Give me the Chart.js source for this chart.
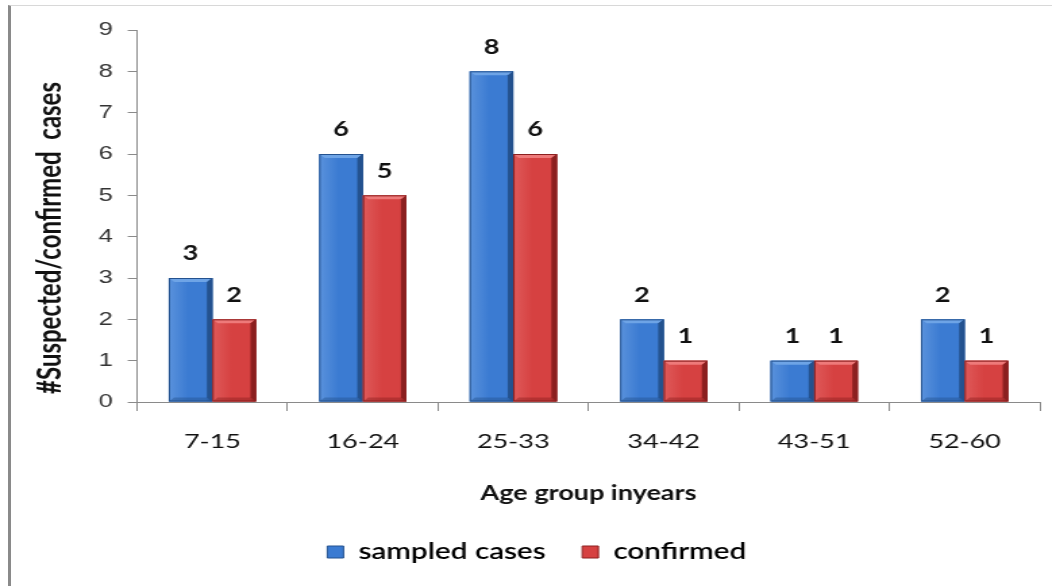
<!DOCTYPE html>
<html>
<head>
<meta charset="utf-8">
<script src="https://cdn.jsdelivr.net/npm/chart.js@4/dist/chart.umd.min.js"></script>
<style>
  html, body { margin: 0; padding: 0; background: #fff; overflow: hidden; }
  #frame {
    position: absolute; left: 8px; top: 5px; width: 1044px; height: 581px;
    border-left: 3px solid #8a8a8a; border-top: 1px solid #d8d8d8; box-sizing: border-box;
  }
  /* the chart is laid out on a narrower canvas and widened to the page */
  #c { position: absolute; left: 0; top: 0; transform-origin: 0 0; transform: scaleX(1.3504); }
</style>
</head>
<body>
<div id="frame"></div>
<canvas id="c" width="779" height="586"></canvas>
<script>
// Age groups and case counts
const ageGroups = ['7-15', '16-24', '25-33', '34-42', '43-51', '52-60'];
const sampledCases = [3, 6, 8, 2, 1, 2];
const confirmedCases = [2, 5, 6, 1, 1, 1];
const yTicks = [0, 1, 2, 3, 4, 5, 6, 7, 8, 9];
const yTitle = '#Suspected/confirmed  cases';

const palette = {
  blue: { base: '#3b7bd2', light: '#6ea4e6', side: '#5a92dc', dark: '#24528f' },
  red:  { base: '#d64141', light: '#ee7a7a', side: '#df5a5a', dark: '#8c2020' }
};

// Bevelled look for each bar, drawn from the bar elements' own geometry
const bevelPlugin = {
  id: 'bevel',
  afterDatasetsDraw(chart) {
    const ctx = chart.ctx;
    chart.data.datasets.forEach((ds, di) => {
      const meta = chart.getDatasetMeta(di);
      const p = di === 0 ? palette.blue : palette.red;
      meta.data.forEach(bar => {
        const { x, y, base, width } = bar.getProps(['x', 'y', 'base', 'width'], true);
        const l = x - width / 2, r = x + width / 2, t = y, b = base;
        const e = Math.min(4, (b - t) / 3);
        ctx.save();
        const g = ctx.createLinearGradient(l, 0, r, 0);
        g.addColorStop(0, p.side);
        g.addColorStop(0.45, p.base);
        g.addColorStop(0.85, p.base);
        g.addColorStop(1, p.dark);
        ctx.fillStyle = g;
        ctx.fillRect(l, t, r - l, b - t);
        // top bevel
        ctx.fillStyle = p.light;
        ctx.beginPath();
        ctx.moveTo(l, t); ctx.lineTo(r, t); ctx.lineTo(r - e, t + e); ctx.lineTo(l + e, t + e);
        ctx.closePath(); ctx.fill();
        // right bevel
        ctx.fillStyle = p.dark;
        ctx.beginPath();
        ctx.moveTo(r, t); ctx.lineTo(r, b); ctx.lineTo(r - e, b - e); ctx.lineTo(r - e, t + e);
        ctx.closePath(); ctx.fill();
        // bottom bevel
        ctx.globalAlpha = 0.45;
        ctx.beginPath();
        ctx.moveTo(l, b); ctx.lineTo(r, b); ctx.lineTo(r - e, b - e); ctx.lineTo(l + e, b - e);
        ctx.closePath(); ctx.fill();
        ctx.globalAlpha = 1;
        ctx.strokeStyle = p.dark;
        ctx.lineWidth = 1;
        ctx.strokeRect(l + 0.5, t + 0.5, r - l - 1, b - t - 1);
        ctx.restore();
      });
    });
  }
};

// Value labels above each bar
const valueLabels = {
  id: 'valueLabels',
  afterDatasetsDraw(chart) {
    const ctx = chart.ctx;
    ctx.save();
    ctx.font = 'bold 20px Lato, sans-serif';
    ctx.fillStyle = '#111';
    ctx.textAlign = 'center';
    ctx.textBaseline = 'middle';
    chart.data.datasets.forEach((ds, di) => {
      chart.getDatasetMeta(di).data.forEach((bar, i) => {
        ctx.fillText(String(ds.data[i]), bar.x, bar.y - 24);
      });
    });
    ctx.restore();
  }
};

// Vertical axis title, set a little below the middle of the plot
const yTitleRoom = 37;
const yTitlePlugin = {
  id: 'yTitle',
  afterDraw(chart) {
    const { ctx, chartArea, scales } = chart;
    ctx.save();
    ctx.translate(scales.y.left + 12, (chartArea.top + chartArea.bottom) / 2 + 22);
    ctx.rotate(-Math.PI / 2);
    ctx.font = 'bold 24px Lato, sans-serif';
    ctx.fillStyle = '#111';
    ctx.textAlign = 'center';
    ctx.textBaseline = 'middle';
    ctx.fillText(yTitle, 0, 0);
    ctx.restore();
  }
};

new Chart(document.getElementById('c'), {
  type: 'bar',
  data: {
    labels: ageGroups,
    datasets: [
      { label: 'sampled cases', data: sampledCases, backgroundColor: palette.blue.base, borderWidth: 0 },
      { label: 'confirmed', data: confirmedCases, backgroundColor: palette.red.base, borderWidth: 0 }
    ]
  },
  options: {
    responsive: false,
    animation: false,
    categoryPercentage: 0.58,
    barPercentage: 1.0,
    layout: { padding: { left: 25, right: 9, top: 30, bottom: 13 } },
    plugins: {
      tooltip: { enabled: false },
      legend: {
        position: 'bottom',
        labels: {
          font: { family: 'Lato, sans-serif', size: 22, weight: '600' },
          color: '#111',
          boxWidth: 12, boxHeight: 12,
          padding: 27,
          generateLabels(chart) {
            return chart.data.datasets.map((ds, i) => ({
              text: ds.label,
              fillStyle: i === 0 ? palette.blue.base : palette.red.base,
              strokeStyle: i === 0 ? palette.blue.dark : palette.red.dark,
              lineWidth: 1,
              datasetIndex: i
            }));
          }
        }
      }
    },
    scales: {
      x: {
        offset: true,
        grid: { display: true, drawOnChartArea: false, offset: true, tickLength: 9, color: '#8a8a8a' },
        border: { color: '#8a8a8a' },
        ticks: { font: { family: 'Lato, sans-serif', size: 20 }, color: '#111', padding: 19 },
        title: { display: true, text: 'Age group inyears', font: { family: 'Lato, sans-serif', size: 20, weight: 'bold' }, color: '#111', padding: { top: 9, bottom: 8 } }
      },
      y: {
        min: 0, max: 9,
        afterBuildTicks(axis) { axis.ticks = yTicks.map(v => ({ value: v })); },
        afterFit(axis) { axis.width += yTitleRoom; },
        grid: { display: true, drawOnChartArea: false, tickLength: 7, color: '#8a8a8a' },
        border: { color: '#8a8a8a' },
        ticks: { font: { family: '"Liberation Sans", sans-serif', size: 19 }, color: '#333', padding: 11 },
        title: { display: false }
      }
    }
  },
  plugins: [bevelPlugin, valueLabels, yTitlePlugin]
});
</script>
</body>
</html>
